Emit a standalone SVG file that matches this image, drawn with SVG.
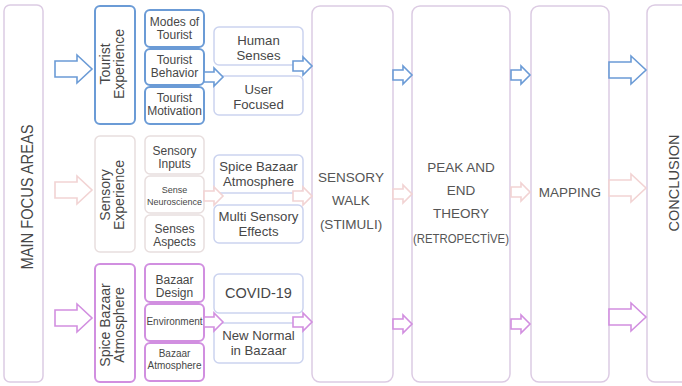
<svg xmlns="http://www.w3.org/2000/svg" xmlns:xlink="http://www.w3.org/1999/xlink" width="682" height="386" viewBox="0 0 682 386">
<style>
text{font-family:"Liberation Sans","DejaVu Sans",Arial,sans-serif;fill:#474747;text-anchor:middle}
.col{fill:#fff;stroke:#dccbe3;stroke-width:1.5}
.gb{fill:#fff;stroke:#6b9bd6;stroke-width:2}
.gl{fill:#fff;stroke:#e8dede;stroke-width:1.5}
.gp{fill:#fff;stroke:#d18fe0;stroke-width:2}
.lb{fill:#fff;stroke:#cbd3ef;stroke-width:1.5}
.ab{fill:#fff;stroke:#6b9bd6;stroke-width:1.6}
.ap{fill:#fff;stroke:#f2d3d3;stroke-width:1.6}
.au{fill:#fff;stroke:#d28fe0;stroke-width:1.6}
.t12{font-size:12px}
.t14{font-size:14px}
.t13{font-size:13.2px}
.c13{font-size:13.5px;fill:#555}
</style>
<defs>
<path id="bigArrow" d="M0,-8 H22 V-14 L37,0 L22,14 V8 H0 Z"/>
<path id="smallArrow" d="M0,-5 H10 V-9 L19,0 L10,9 V5 H0 Z"/>
</defs>

<g id="main-focus">
<rect class="col" x="4" y="5" width="39" height="377" rx="6"/>
<text transform="translate(33,197) rotate(-90)" font-size="16" textLength="145" lengthAdjust="spacingAndGlyphs">MAIN FOCUS AREAS</text>
</g>

<g id="tourist-experience">
<rect class="gb" x="95" y="6" width="40" height="118" rx="5"/>
<text class="t14" transform="translate(110,64) rotate(-90)"><tspan x="0" dy="0">Tourist</tspan><tspan x="0" dy="14">Experience</tspan></text>
</g>
<g id="modes-of-tourist">
<rect class="gb" x="145" y="10" width="59" height="37" rx="5"/>
<text class="t12" x="174.5" y="26">Modes of</text><text class="t12" x="174.5" y="39">Tourist</text>
</g>
<g id="tourist-behavior">
<rect class="gb" x="145" y="49" width="59" height="36" rx="5"/>
<text class="t12" x="174.5" y="64">Tourist</text><text class="t12" x="174.5" y="77">Behavior</text>
</g>
<g id="tourist-motivation">
<rect class="gb" x="145" y="87" width="59" height="37" rx="5"/>
<text class="t12" x="174.5" y="102">Tourist</text><text class="t12" x="174.5" y="115">Motivation</text>
</g>
<g id="human-senses">
<rect class="lb" x="214" y="27" width="89" height="38" rx="5"/>
<text class="t13" x="258.5" y="45">Human</text><text class="t13" x="258.5" y="60">Senses</text>
</g>
<g id="user-focused">
<rect class="lb" x="214" y="76" width="89" height="39" rx="5"/>
<text class="t13" x="258.5" y="94">User</text><text class="t13" x="258.5" y="109">Focused</text>
</g>

<g id="sensory-experience">
<rect class="gl" x="95" y="136" width="40" height="116" rx="5"/>
<text class="t14" transform="translate(110,195) rotate(-90)"><tspan x="0" dy="0">Sensory</tspan><tspan x="0" dy="14">Experience</tspan></text>
</g>
<g id="sensory-inputs">
<rect class="gl" x="145" y="136" width="59" height="38" rx="5"/>
<text class="t12" x="174.5" y="155">Sensory</text><text class="t12" x="174.5" y="168">Inputs</text>
</g>
<g id="sense-neuroscience">
<rect class="gl" x="145" y="176" width="59" height="37" rx="5"/>
<text font-size="9" x="174.5" y="193">Sense</text><text font-size="9" x="174.5" y="205">Neuroscience</text>
</g>
<g id="senses-aspects">
<rect class="gl" x="145" y="215" width="59" height="37" rx="5"/>
<text class="t12" x="174.5" y="233">Senses</text><text class="t12" x="174.5" y="246">Aspects</text>
</g>
<g id="spice-bazaar-atmosphere-mid">
<rect class="lb" x="214" y="155" width="89" height="38" rx="5"/>
<text class="t13" x="258.5" y="171">Spice Bazaar</text><text class="t13" x="258.5" y="186">Atmosphere</text>
</g>
<g id="multi-sensory-effects">
<rect class="lb" x="214" y="205" width="89" height="38" rx="5"/>
<text class="t13" x="258.5" y="221">Multi Sensory</text><text class="t13" x="258.5" y="236">Effects</text>
</g>

<g id="spice-bazaar-atmosphere">
<rect class="gp" x="95" y="264" width="40" height="118" rx="5"/>
<text class="t14" transform="translate(110,325) rotate(-90)"><tspan x="0" dy="0">Spice Bazaar</tspan><tspan x="0" dy="14">Atmosphere</tspan></text>
</g>
<g id="bazaar-design">
<rect class="gp" x="145" y="264" width="59" height="38" rx="5"/>
<text class="t12" x="174.5" y="284">Bazaar</text><text class="t12" x="174.5" y="297">Design</text>
</g>
<g id="environment">
<rect class="gp" x="145" y="304" width="59" height="37" rx="5"/>
<text font-size="10" x="174.5" y="325">Environment</text>
</g>
<g id="bazaar-atmosphere">
<rect class="gp" x="145" y="343" width="59" height="38" rx="5"/>
<text font-size="10" x="174.5" y="357">Bazaar</text><text font-size="10" x="174.5" y="369">Atmosphere</text>
</g>
<g id="covid-19">
<rect class="lb" x="214" y="274" width="89" height="39" rx="5"/>
<text font-size="14.5" x="258.5" y="298">COVID-19</text>
</g>
<g id="new-normal">
<rect class="lb" x="214" y="323" width="89" height="40" rx="5"/>
<text class="t13" x="258.5" y="340">New Normal</text><text class="t13" x="258.5" y="355">in Bazaar</text>
</g>

<g id="sensory-walk">
<rect class="col" x="312" y="6" width="81" height="376" rx="8"/>
<text class="c13" x="351" y="182">SENSORY</text>
<text class="c13" x="351" y="205">WALK</text>
<text class="c13" x="351" y="229">(STIMULI)</text>
</g>
<g id="peak-end">
<rect class="col" x="412" y="6" width="98" height="376" rx="8"/>
<text class="c13" x="461" y="172">PEAK AND</text>
<text class="c13" x="461" y="195">END</text>
<text class="c13" x="461" y="218">THEORY</text>
<text class="c13" x="461" y="243" textLength="96" lengthAdjust="spacingAndGlyphs">(RETROPECTİVE)</text>
</g>
<g id="mapping">
<rect class="col" x="531" y="6" width="78" height="376" rx="8"/>
<text class="c13" x="570" y="197">MAPPING</text>
</g>
<g id="conclusion">
<rect class="col" x="647" y="5" width="60" height="377" rx="8"/>
<text transform="translate(679,183) rotate(-90)" font-size="15" fill="#474747" textLength="97" lengthAdjust="spacingAndGlyphs">CONCLUSION</text>
</g>

<g id="connectors">
<use xlink:href="#bigArrow" x="55" y="69" class="ab"/>
<use xlink:href="#bigArrow" x="55" y="190" class="ap"/>
<use xlink:href="#bigArrow" x="55" y="318" class="au"/>
<use xlink:href="#smallArrow" x="204" y="77" class="ab"/>
<use xlink:href="#smallArrow" x="204" y="196" class="ap"/>
<use xlink:href="#smallArrow" x="204" y="322" class="au"/>
<use xlink:href="#smallArrow" x="293" y="66" class="ab"/>
<use xlink:href="#smallArrow" x="293" y="196" class="ap"/>
<use xlink:href="#smallArrow" x="293" y="322" class="au"/>
<use xlink:href="#smallArrow" x="393" y="75" class="ab"/>
<use xlink:href="#smallArrow" x="393" y="194" class="ap"/>
<use xlink:href="#smallArrow" x="393" y="324" class="au"/>
<use xlink:href="#smallArrow" x="511" y="75" class="ab"/>
<use xlink:href="#smallArrow" x="511" y="192" class="ap"/>
<use xlink:href="#smallArrow" x="511" y="324" class="au"/>
<use xlink:href="#bigArrow" x="609" y="70" class="ab"/>
<use xlink:href="#bigArrow" x="609" y="188" class="ap"/>
<use xlink:href="#bigArrow" x="609" y="317" class="au"/>
</g>
</svg>
